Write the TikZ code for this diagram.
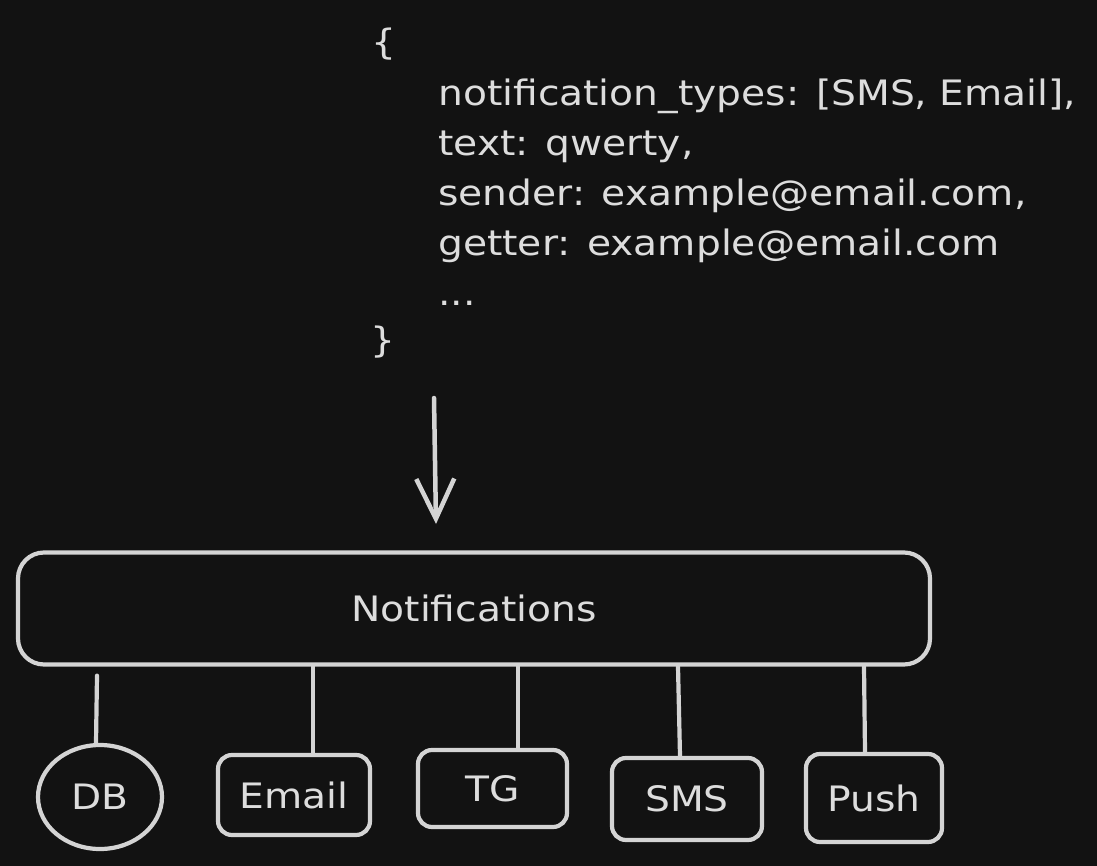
\documentclass[tikz,border=0pt]{standalone}
\usepackage{fontspec}
\setmainfont{DejaVu Sans}[FakeStretch=1.12]
\usetikzlibrary{shapes.geometric,arrows.meta}
\definecolor{bg}{HTML}{121212}
\definecolor{ink}{HTML}{D4D4D4}
\definecolor{txt}{HTML}{DDDDDD}
\tikzset{
  lbl/.style={text=txt, inner sep=0pt, font=\fontsize{35}{50}\selectfont},
  codeline/.style={lbl, anchor=base west},
  mainbox/.style={draw=ink, line width=4.2pt, rounded corners=26pt, minimum width=912pt, minimum height=112pt, lbl},
  leafbox/.style={draw=ink, line width=4.2pt, rounded corners=14pt, lbl},
  leafell/.style={draw=ink, line width=4.2pt, ellipse, lbl},
  wire/.style={draw=ink, line width=4.2pt, line cap=round},
}
\begin{document}
\begin{tikzpicture}[x=1pt,y=-1pt]
\fill[bg] (0,0) rectangle (1097,866);
\useasboundingbox (0,0) rectangle (1097,866);

% request body
\node[lbl] (ob) at (384,44) {\{};
\node[codeline] (c1) at (438,106) {notification\_types: [SMS, Email],};
\node[codeline] (c2) at (438,156) {text: qwerty,};
\node[codeline] (c3) at (438,206) {sender: example@email.com,};
\node[codeline] (c4) at (438,256) {getter: example@email.com};
\node[codeline] (c5) at (438,306) {...};
\node[lbl] (cb) at (383,342) {\}};

% arrow
\coordinate (as) at (434,398);
\coordinate (ae) at (436,524);
\draw[wire, line width=4.5pt, -{Straight Barb[length=40pt,width=38pt,line width=4.5pt]}] (as) -- (ae);

% main box
\node[mainbox] (notif) at (474,608.5) {Notifications};

% leaves
\node[leafell, minimum width=124pt, minimum height=104pt] (db) at (100,797) {DB};
\node[leafbox, minimum width=152pt, minimum height=80pt] (email) at (294,795) {Email};
\node[leafbox, minimum width=149pt, minimum height=77pt] (tg) at (492.5,788.5) {TG};
\node[leafbox, minimum width=150pt, minimum height=82pt] (sms) at (687,799) {SMS};
\node[leafbox, minimum width=136pt, minimum height=88pt] (push) at (874,798) {Push};

% connectors
\draw[wire] ([yshift=-9pt]notif.south -| 97,0) -- (96,0 |- db.north);
\draw[wire] (313,0 |- notif.south) -- (313,0 |- email.north);
\draw[wire] (518,0 |- notif.south) -- (518,0 |- tg.north);
\draw[wire] (678,0 |- notif.south) -- (680,0 |- sms.north);
\draw[wire] (864,0 |- notif.south) -- (865,0 |- push.north);
\end{tikzpicture}
\end{document}
